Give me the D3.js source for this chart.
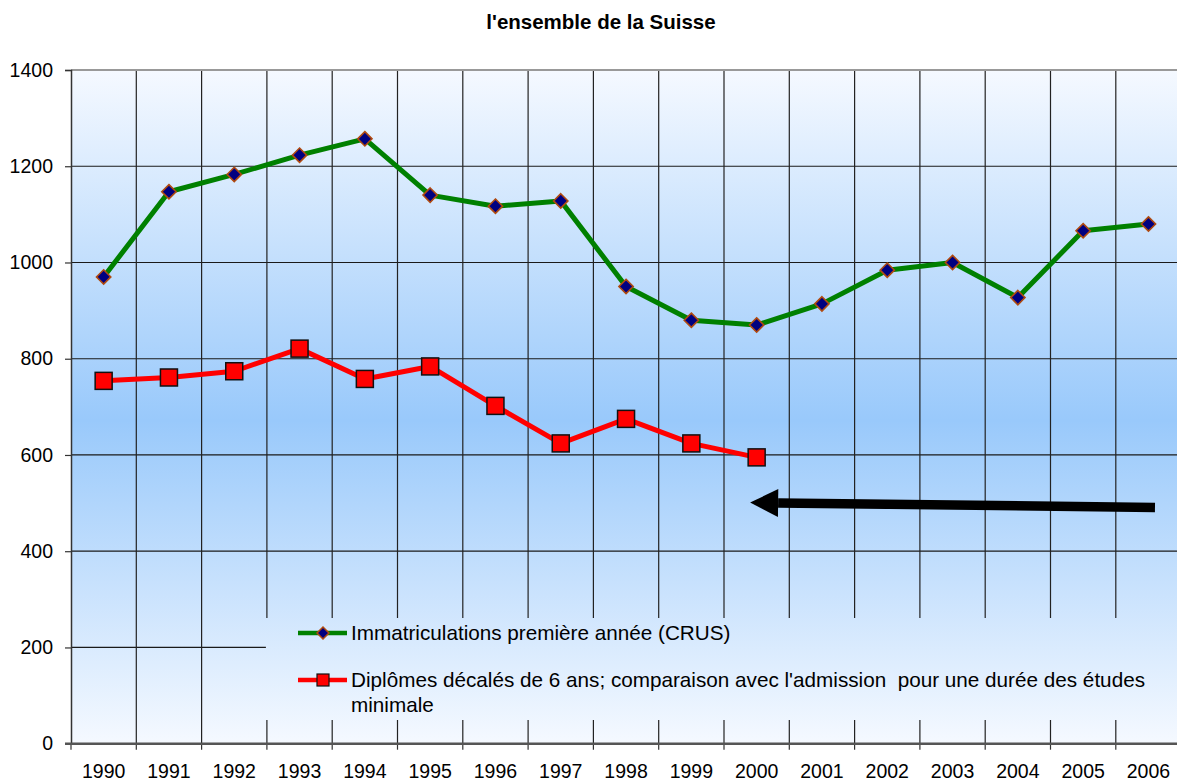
<!DOCTYPE html>
<meta charset="utf-8">
<head>
    <meta charset="UTF-8">
    <title>l'ensemble de la Suisse</title>
</head>
<style>
body { margin:0; background:#fff; font-family:"Liberation Sans", Arial, sans-serif; }
svg { display:block; }
text { white-space: pre; }
</style>
<body>
<script src="https://d3js.org/d3.v7.min.js"></script>
<script>

// data
var years = ["1990","1991","1992","1993","1994","1995","1996","1997","1998",
             "1999","2000","2001","2002","2003","2004","2005","2006"];
var immatriculations = [970,1147,1183,1223,1257,1140,1117,1128,950,880,870,914,984,1000,927,1066,1080];
var diplomes = [754,761,774,821,758,784,702,624,675,624,595];   // 1990 - 2000
var yTicks = [0,200,400,600,800,1000,1200,1400];
var titleText = "l'ensemble de la Suisse";
var legendLabels = ["Immatriculations première année (CRUS)",
                    "Diplômes décalés de 6 ans; comparaison avec l'admission  pour une durée des études",
                    "minimale"];
// arrow annotation, in category-index / value units
var arrowTail = [16.6, 491];
var arrowTip = [10.4, 501];

var W = 1177, H = 781;
var plotLeft = 71, plotTop = 70, plotBottom = 743.7, plotRight = plotLeft + 17*65.3;

var svg = d3.select("body")
    .append("svg")
    .attr("width", W)
    .attr("height", H);

var defs = svg.append("defs");
var grad = defs.append("linearGradient")
    .attr("id","bg")
    .attr("gradientUnits","userSpaceOnUse")
    .attr("x1",0).attr("x2",0).attr("y1",plotTop).attr("y2",plotBottom);
grad.append("stop").attr("offset","0").attr("stop-color","#f5f9ff");
grad.append("stop").attr("offset","0.52").attr("stop-color","#99c9fb");
grad.append("stop").attr("offset","1").attr("stop-color","#f5f9ff");

// scales
var x = d3.scaleBand().domain(years).range([plotLeft, plotRight]).padding(0);
var xi = d3.scaleLinear().domain([0, 17]).range([plotLeft, plotRight]);
var y = d3.scaleLinear().domain([0, 1400]).range([plotBottom, plotTop]);

// plot background
svg.append("rect")
    .attr("x", plotLeft).attr("y", plotTop)
    .attr("width", plotRight-plotLeft).attr("height", plotBottom-plotTop)
    .attr("fill","url(#bg)");

// grid
svg.append("g").selectAll("line")
    .data(yTicks.filter(function(d){return d>0 && d<1400;}))
    .enter().append("line")
    .attr("x1", plotLeft).attr("x2", plotRight)
    .attr("y1", function(d){return y(d)}).attr("y2", function(d){return y(d)})
    .attr("stroke","#1a1a1a").attr("stroke-width",1.2);

svg.append("g").selectAll("line")
    .data(d3.range(1,17))
    .enter().append("line")
    .attr("x1", function(d){return xi(d)}).attr("x2", function(d){return xi(d)})
    .attr("y1", plotTop).attr("y2", plotBottom)
    .attr("stroke","#222").attr("stroke-width",1.2);

// top border
svg.append("line")
    .attr("x1", plotLeft).attr("x2", plotRight)
    .attr("y1", y(1400)).attr("y2", y(1400))
    .attr("stroke","#999").attr("stroke-width",2);

// legend box (hides grid behind it)
var lg = svg.append("g");
lg.append("rect")
    .attr("x", xi(3)-1).attr("y", 618)
    .attr("width", plotRight - xi(3) + 1).attr("height", 102)
    .attr("fill","url(#bg)");

// axes
var yAxis = svg.append("g")
    .attr("transform","translate(" + plotLeft + ",0)")
    .call(d3.axisLeft(y).tickValues(yTicks).tickSize(6).tickPadding(12).tickFormat(d3.format("d")));
yAxis.select(".domain").attr("stroke","#333").attr("stroke-width",1.5);
yAxis.selectAll(".tick line").attr("stroke","#333").attr("stroke-width",1.2);
yAxis.selectAll("text").attr("font-size","19.5px").attr("fill","#000")
    .attr("font-family","'Liberation Sans', Arial, sans-serif");

var xAxis = svg.append("g")
    .attr("transform","translate(0," + plotBottom + ")")
    .call(d3.axisBottom(x).tickSize(0).tickPadding(20));
xAxis.select(".domain").remove();
xAxis.selectAll("text").attr("font-size","19.5px").attr("fill","#000")
    .attr("font-family","'Liberation Sans', Arial, sans-serif");

svg.append("g").selectAll("line")
    .data(d3.range(0,18))
    .enter().append("line")
    .attr("x1", function(d){return xi(d)}).attr("x2", function(d){return xi(d)})
    .attr("y1", plotBottom).attr("y2", plotBottom+6)
    .attr("stroke","#333").attr("stroke-width",1.2);

svg.append("line")
    .attr("x1", plotLeft-6).attr("x2", plotRight)
    .attr("y1", plotBottom).attr("y2", plotBottom)
    .attr("stroke","#555").attr("stroke-width",2.5);

// lines
var line = d3.line()
    .x(function(d,i){ return x(years[i]) + x.bandwidth()/2; })
    .y(function(d){ return y(d); });

svg.append("path")
    .attr("d", line(immatriculations))
    .attr("fill","none")
    .attr("stroke","#008000")
    .attr("stroke-width",5)
    .attr("stroke-linejoin","round");

svg.append("path")
    .attr("d", line(diplomes))
    .attr("fill","none")
    .attr("stroke","#ff0000")
    .attr("stroke-width",5)
    .attr("stroke-linejoin","round");

// markers
var diamond = d3.symbol().type(d3.symbolDiamond2).size(130);
svg.append("g").selectAll("path")
    .data(immatriculations)
    .enter().append("path")
    .attr("d", diamond)
    .attr("transform", function(d,i){ return "translate(" + (x(years[i]) + x.bandwidth()/2) + "," + y(d) + ")"; })
    .attr("fill","#000080")
    .attr("stroke","#b04a10")
    .attr("stroke-width",1.6);

svg.append("g").selectAll("rect")
    .data(diplomes)
    .enter().append("rect")
    .attr("x", function(d,i){ return x(years[i]) + x.bandwidth()/2 - 8.5; })
    .attr("y", function(d){ return y(d) - 8.5; })
    .attr("width",17).attr("height",17)
    .attr("fill","#ff0000")
    .attr("stroke","#111")
    .attr("stroke-width",1.5);

// arrow
var ax1 = xi(arrowTail[0]), ay1 = y(arrowTail[1]);
var ax2 = xi(arrowTip[0]), ay2 = y(arrowTip[1]);
var ang = Math.atan2(ay2-ay1, ax2-ax1);
var headLen = 28, headW = 14;
var bx = ax2 - headLen*Math.cos(ang), by = ay2 - headLen*Math.sin(ang);
svg.append("line")
    .attr("x1", ax1).attr("y1", ay1)
    .attr("x2", bx).attr("y2", by)
    .attr("stroke","#000").attr("stroke-width",9.5);
svg.append("path")
    .attr("d", "M" + ax2 + "," + ay2 +
               "L" + (bx + headW*Math.sin(ang)) + "," + (by - headW*Math.cos(ang)) +
               "L" + (bx - headW*Math.sin(ang)) + "," + (by + headW*Math.cos(ang)) + "Z")
    .attr("fill","#000");

// legend contents
var l1 = 633, l2 = 680;
lg.append("line").attr("x1",298).attr("x2",347).attr("y1",l1).attr("y2",l1)
    .attr("stroke","#008000").attr("stroke-width",4.5);
lg.append("path").attr("d", d3.symbol().type(d3.symbolDiamond2).size(90))
    .attr("transform","translate(323," + l1 + ")")
    .attr("fill","#000080").attr("stroke","#b04a10").attr("stroke-width",1.5);
lg.append("line").attr("x1",298).attr("x2",347).attr("y1",l2).attr("y2",l2)
    .attr("stroke","#ff0000").attr("stroke-width",4.5);
lg.append("rect").attr("x",317).attr("y",l2-6).attr("width",12).attr("height",12)
    .attr("fill","#ff0000").attr("stroke","#111").attr("stroke-width",1.2);

lg.selectAll("text")
    .data(legendLabels)
    .enter().append("text")
    .attr("x", 351)
    .attr("y", function(d,i){ return [640, 687, 712][i]; })
    .attr("font-size","20.7px")
    .attr("fill","#000")
    .text(function(d){return d;});

// title
svg.append("text")
    .attr("x", 601).attr("y", 29)
    .attr("text-anchor","middle")
    .attr("font-size","20.5px")
    .attr("font-weight","bold")
    .text(titleText);

</script>
</body>
